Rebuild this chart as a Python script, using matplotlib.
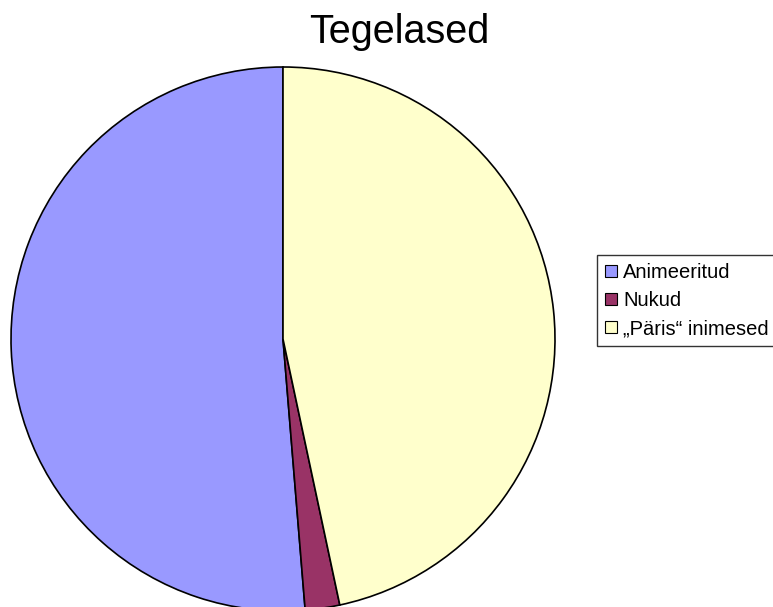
import matplotlib.pyplot as plt
from matplotlib.patches import Patch

# Data
labels = ['Animeeritud', 'Nukud', '„Päris“ inimesed']
values = [51.3, 2.05, 46.65]
colors = ['#9999FF', '#993366', '#FFFFCC']

plt.rcParams['font.family'] = ['Liberation Sans', 'DejaVu Sans']

W, H = 773, 607
fig = plt.figure(figsize=(W/100, H/100), dpi=100)

# pie centre and radius in pixels
cx, cy, r = 283, 339, 272
ax = fig.add_axes([(cx-r)/W, (H-cy-r)/H, 2*r/W, 2*r/H])
ax.pie(values, colors=colors, startangle=90, counterclock=True,
       wedgeprops=dict(edgecolor='black', linewidth=1.2))
ax.set_xlim(-1, 1)
ax.set_ylim(-1, 1)
ax.set_aspect('equal')
ax.axis('off')

fig.text(399/W, 1-32/H, 'Tegelased', ha='center', va='center', fontsize=28.5)

handles = [Patch(facecolor=c, edgecolor='black', linewidth=0.8) for c in colors]
leg = fig.legend(handles, labels, loc='upper left',
                 bbox_to_anchor=(597/W, 1-255/H), borderaxespad=0,
                 fontsize=14.5, frameon=True, fancybox=False,
                 handlelength=0.6, handleheight=0.6, handletextpad=0.3,
                 labelspacing=0.45, borderpad=0.4)
leg.get_frame().set_edgecolor('black')
leg.get_frame().set_linewidth(1.0)

fig.savefig('out.png', dpi=100)
